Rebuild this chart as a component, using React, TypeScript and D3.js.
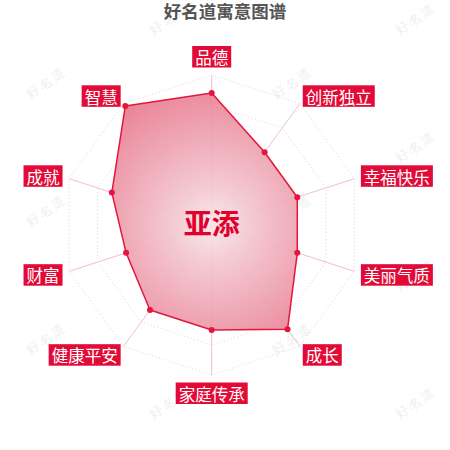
import { useEffect, useRef } from "react";
import * as d3 from "d3";

// ── Data ──────────────────────────────────────────────────────────────────────

const TITLE = "好名道寓意图谱";
const NAME = "亚添";
const INDICATORS = ["品德", "创新独立", "幸福快乐", "美丽气质", "成长", "家庭传承", "健康平安", "财富", "成就", "智慧"];
const VALUES = [88, 60, 60, 60, 86, 70, 70, 60, 70, 98];
const MAX = 100;
const LEVELS = [20, 40, 60, 80, 100];

// ── Tokens ────────────────────────────────────────────────────────────────────

const RED = "#e20a36";
const LINE = "#e3173d";
const AXIS = "#f2bfca";
const GRID = "#d9c4c9";
const FONT = "'Noto Sans CJK SC', 'Noto Sans', sans-serif";

export default function App() {
  const svgRef = useRef<SVGSVGElement>(null);

  useEffect(() => {
    if (!svgRef.current) return;
    const W = 450, H = 450;
    const cx = 211.7, cy = 225, R = 150;

    const svg = d3.select(svgRef.current);
    svg.selectAll("*").remove();
    svg.attr("viewBox", `0 0 ${W} ${H}`).attr("width", W).attr("height", H);

    const r = d3.scaleLinear().domain([0, MAX]).range([0, R]);
    const angle = d3.scaleLinear().domain([0, INDICATORS.length]).range([0, 2 * Math.PI]);
    const pt = (i: number, v: number): [number, number] => [
      cx + r(v) * Math.sin(angle(i)),
      cy - r(v) * Math.cos(angle(i)),
    ];

    // Watermarks
    const wm = svg.append("g").attr("fill", "#efefef").attr("font-size", "13px")
      .attr("font-family", "serif").attr("letter-spacing", "2px");
    d3.range(7).forEach(row => {
      const y = 20 + row * 64;
      const x0 = row % 2 === 0 ? 170 : 47;
      [x0, x0 + 246].forEach(x => {
        wm.append("text")
          .attr("transform", `translate(${x},${y}) rotate(-35)`)
          .attr("text-anchor", "middle")
          .attr("dominant-baseline", "middle")
          .text("好名道");
      });
    });

    // Title
    svg.append("text")
      .attr("x", W / 2).attr("y", 18)
      .attr("text-anchor", "middle")
      .attr("fill", "#555").attr("font-size", "17.5px").attr("font-weight", "bold")
      .attr("font-family", FONT)
      .text(TITLE);

    const defs = svg.append("defs");
    const grad = defs.append("radialGradient")
      .attr("id", "areaGrad").attr("gradientUnits", "userSpaceOnUse")
      .attr("cx", cx).attr("cy", cy).attr("r", R);
    grad.append("stop").attr("offset", "0").attr("stop-color", "#f9e6ea");
    grad.append("stop").attr("offset", "0.25").attr("stop-color", "#f3c7d0");
    grad.append("stop").attr("offset", "1").attr("stop-color", "#e8768b");

    const g = svg.append("g");

    // Grid polygons
    const line = d3.line<[number, number]>().curve(d3.curveLinearClosed);
    g.selectAll(".grid")
      .data(LEVELS)
      .join("path")
      .attr("class", "grid")
      .attr("d", lv => line(INDICATORS.map((_, i) => pt(i, lv))))
      .attr("fill", "none")
      .attr("stroke", GRID)
      .attr("stroke-width", 0.8)
      .attr("stroke-dasharray", "1,2.5");

    // Axis lines
    g.selectAll(".axis")
      .data(INDICATORS)
      .join("line")
      .attr("class", "axis")
      .attr("x1", cx).attr("y1", cy)
      .attr("x2", (_, i) => pt(i, MAX)[0])
      .attr("y2", (_, i) => pt(i, MAX)[1])
      .attr("stroke", AXIS)
      .attr("stroke-width", 1);

    // Data area
    const pts = VALUES.map((v, i) => pt(i, v));
    g.append("path")
      .attr("d", line(pts))
      .attr("fill", "url(#areaGrad)")
      .attr("fill-opacity", 0.92)
      .attr("stroke", LINE)
      .attr("stroke-width", 1.5)
      .attr("stroke-linejoin", "round");

    g.selectAll(".dot")
      .data(pts)
      .join("circle")
      .attr("class", "dot")
      .attr("cx", d => d[0]).attr("cy", d => d[1])
      .attr("r", 3)
      .attr("fill", LINE);

    // Indicator labels
    const FS = 16.5, PADX = 3, PADY = 2.5;
    INDICATORS.forEach((name, i) => {
      const a = angle(i);
      const s = Math.sin(a), c = Math.cos(a);
      const [ax, ay] = pt(i, MAX * (R + 10) / R);
      const tw = name.length * FS;
      const bw = tw + PADX * 2, bh = FS + PADY * 2;
      let bx: number;
      if (s > 0.1) bx = ax - PADX;
      else if (s < -0.1) bx = ax - bw + PADX;
      else bx = ax - bw / 2;
      let by: number;
      if (c > 0.9) by = ay - bh + PADY;
      else if (c < -0.9) by = ay - PADY;
      else by = ay - bh / 2 + 0.5;

      g.append("rect")
        .attr("x", bx).attr("y", by)
        .attr("width", bw).attr("height", bh)
        .attr("fill", RED);
      g.append("text")
        .attr("x", bx + bw / 2).attr("y", by + bh / 2 + 0.5)
        .attr("text-anchor", "middle").attr("dominant-baseline", "central")
        .attr("fill", "#fff").attr("font-size", `${FS}px`)
        .attr("font-family", FONT)
        .text(name);
    });

    // Center name
    g.append("text")
      .attr("x", cx).attr("y", cy - 3)
      .attr("text-anchor", "middle").attr("dominant-baseline", "central")
      .attr("fill", "#e0002b").attr("font-size", "28px").attr("font-weight", "bold")
      .attr("font-family", FONT)
      .text(NAME);
  }, []);

  return (
    <div style={{ position: "absolute", left: 0, top: 0, width: 450, height: 450, background: "#fff" }}>
      <svg ref={svgRef} style={{ display: "block" }} />
    </div>
  );
}
